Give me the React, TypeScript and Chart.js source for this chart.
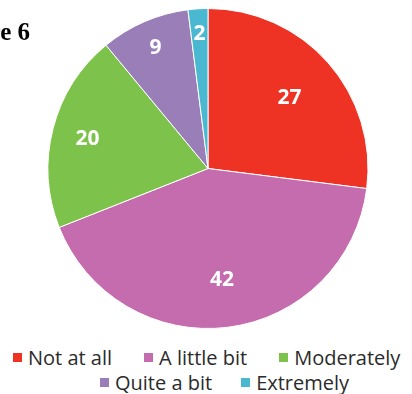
import React, { useEffect, useRef } from "react";
import { Chart, registerables } from "chart.js";

Chart.register(...registerables);

const title = "Figure 6";
const categories = ["Not at all", "A little bit", "Moderately", "Quite a bit", "Extremely"];
const values = [27, 42, 20, 9, 2];
const colors = ["#EE3224", "#C46CAE", "#7DC24A", "#9A7EB8", "#4BB8D2"];
// distance of each value label from the centre, as a share of the radius
const labelRadius = [0.68, 0.694, 0.777, 0.826, 0.85];
const legendRows = [[0, 1, 2], [3, 4]];
const legendRowLeft = [13, 100];
const legendRowGap = [32, 29];

const sliceLabels = {
  id: "sliceLabels",
  afterDatasetsDraw(chart: any) {
    const ctx = chart.ctx;
    const meta = chart.getDatasetMeta(0);
    ctx.save();
    ctx.font = "bold 21px 'Open Sans'";
    ctx.fillStyle = "#ffffff";
    ctx.textAlign = "center";
    ctx.textBaseline = "middle";
    meta.data.forEach((arc: any, i: number) => {
      const p = arc.getProps(["x", "y", "startAngle", "endAngle", "outerRadius"], true);
      const a = (p.startAngle + p.endAngle) / 2;
      const r = p.outerRadius * labelRadius[i];
      ctx.fillText(String(values[i]), p.x + Math.cos(a) * r, p.y + Math.sin(a) * r + 1);
    });
    ctx.restore();
  },
};

export default function App() {
  const canvasRef = useRef<HTMLCanvasElement | null>(null);

  useEffect(() => {
    if (!canvasRef.current) return;
    const chart = new Chart(canvasRef.current, {
      type: "pie",
      data: {
        labels: categories,
        datasets: [
          {
            data: values,
            backgroundColor: colors,
            borderColor: "#ffffff",
            borderWidth: 1,
          },
        ],
      },
      options: {
        animation: false,
        responsive: true,
        maintainAspectRatio: false,
        radius: 160,
        layout: { padding: 0 },
        plugins: {
          legend: { display: false },
          tooltip: { enabled: false },
          title: { display: false },
        },
      } as any,
      plugins: [sliceLabels],
    });
    return () => chart.destroy();
  }, []);

  return (
    <div
      style={{
        position: "fixed",
        left: 0,
        top: 0,
        width: 412,
        height: 394,
        overflow: "hidden",
        background: "#ffffff",
      }}
    >
      <div style={{ position: "absolute", left: 4, top: 0, width: 408, height: 337 }}>
        <canvas ref={canvasRef} />
      </div>
      <div
        style={{
          position: "absolute",
          right: 382,
          top: 19,
          fontFamily: "'Liberation Serif', serif",
          fontWeight: "bold",
          fontSize: 25,
          lineHeight: "25px",
          whiteSpace: "nowrap",
          color: "#000000",
        }}
      >
        {title}
      </div>
      {legendRows.map((row, ri) => (
        <div
          key={ri}
          style={{
            position: "absolute",
            left: legendRowLeft[ri],
            top: 345 + ri * 25,
            height: 25,
            display: "flex",
            alignItems: "center",
            columnGap: legendRowGap[ri],
            fontFamily: "'Open Sans', sans-serif",
            fontSize: 20,
            lineHeight: "25px",
            color: "#2b2b2b",
            whiteSpace: "nowrap",
          }}
        >
          {row.map((i) => (
            <div key={i} style={{ display: "flex", alignItems: "center" }}>
              <span
                style={{
                  display: "inline-block",
                  width: 9,
                  height: 9,
                  background: colors[i],
                  marginRight: 6,
                }}
              />
              <span>{categories[i]}</span>
            </div>
          ))}
        </div>
      ))}
    </div>
  );
}
